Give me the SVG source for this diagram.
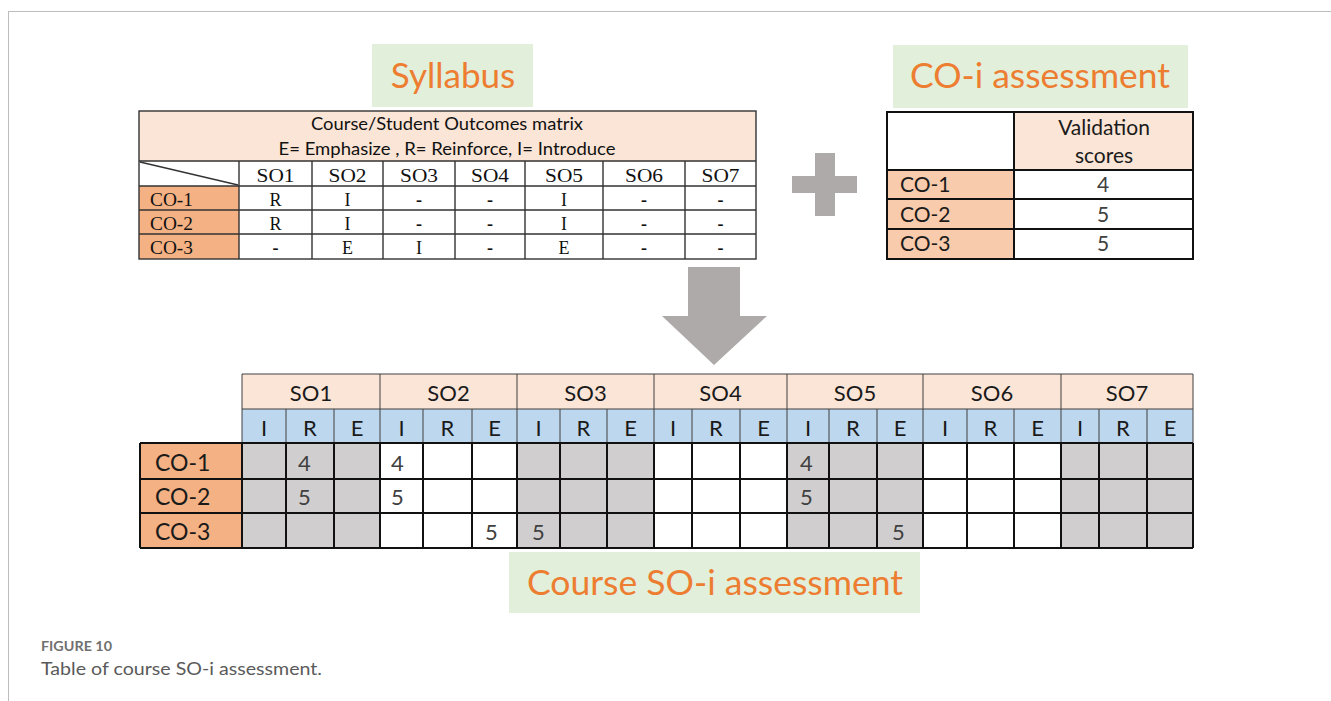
<svg xmlns="http://www.w3.org/2000/svg" width="1331" height="701" viewBox="0 0 1331 701">
  <style>
    .sans { font-family: Lato, "Open Sans", "Liberation Sans", sans-serif; }
    .serif { font-family: "Liberation Serif", "Times New Roman", serif; }
    .title { font-family: Lato, "Open Sans", "Liberation Sans", sans-serif; fill: #ed7d31; font-size: 35px; }
    .tag { fill: #e2efda; }
    .peach { fill: #fbe5d6; }
    .co { fill: #f4b183; }
    .co-light { fill: #f8cbad; }
    .blue { fill: #bdd7ee; }
    .grey { fill: #d0cece; }
    .thin { stroke: #404040; stroke-width: 1; fill: none; }
    .thick { stroke: #111; stroke-width: 2; fill: none; }
    .mid { stroke: #333; stroke-width: 1.4; fill: none; }
    .cell { font-size: 18px; fill: #111; text-anchor: middle; }
    .dash { font-size: 18px; fill: #111; text-anchor: middle; font-weight: bold; }
    .hdr { font-size: 22px; fill: #1a1a1a; text-anchor: middle; }
    .num { font-size: 22px; fill: #404040; }
    .shape { fill: #aeaaaa; }
  </style>

  <!-- page frame -->
  <rect x="8.5" y="11.5" width="1340" height="700" fill="#fff" stroke="#bdbdbd" stroke-width="1"/>

  <!-- Syllabus matrix -->
  <g id="syllabus">
    <rect class="tag" x="372" y="44" width="161" height="63"/>
    <text class="title" x="453" y="88" text-anchor="middle">Syllabus</text>

    <rect x="139" y="111" width="617" height="148" fill="#fff"/>
    <rect class="peach" x="139" y="111" width="617" height="50"/>
    <rect class="co" x="139" y="186" width="100" height="73"/>
    <text class="sans" x="447" y="130" font-size="16.5" fill="#111" text-anchor="middle" textLength="272" lengthAdjust="spacingAndGlyphs">Course/Student Outcomes matrix</text>
    <text class="sans" x="447" y="155" font-size="16.5" fill="#111" text-anchor="middle" textLength="337" lengthAdjust="spacingAndGlyphs">E= Emphasize , R= Reinforce, I= Introduce</text>

    <g class="mid">
      <rect x="139" y="111" width="617" height="148"/>
      <path d="M139 161H756M139 186H756M139 210H756M139 234H756"/>
      <path d="M239 161V259M312 161V259M383 161V259M455 161V259M525 161V259M603 161V259M685 161V259"/>
      <path d="M140 162L238 185"/>
    </g>

    <g class="serif cell">
      <text x="275.5" y="182" textLength="38" lengthAdjust="spacingAndGlyphs">SO1</text>
      <text x="347.5" y="182" textLength="38" lengthAdjust="spacingAndGlyphs">SO2</text>
      <text x="419" y="182" textLength="38" lengthAdjust="spacingAndGlyphs">SO3</text>
      <text x="490" y="182" textLength="38" lengthAdjust="spacingAndGlyphs">SO4</text>
      <text x="564" y="182" textLength="38" lengthAdjust="spacingAndGlyphs">SO5</text>
      <text x="644" y="182" textLength="38" lengthAdjust="spacingAndGlyphs">SO6</text>
      <text x="720.5" y="182" textLength="38" lengthAdjust="spacingAndGlyphs">SO7</text>
    </g>
    <g class="serif" font-size="19" fill="#111">
      <text x="150" y="206" textLength="43" lengthAdjust="spacingAndGlyphs">CO-1</text>
      <text x="150" y="230" textLength="43" lengthAdjust="spacingAndGlyphs">CO-2</text>
      <text x="150" y="254" textLength="43" lengthAdjust="spacingAndGlyphs">CO-3</text>
    </g>
    <g class="serif cell">
      <text x="275.5" y="206">R</text><text x="347.5" y="206">I</text><text x="564" y="206">I</text>
      <text x="275.5" y="230">R</text><text x="347.5" y="230">I</text><text x="564" y="230">I</text>
      <text x="347.5" y="254">E</text><text x="419" y="254">I</text><text x="564" y="254">E</text>
    </g>
    <g class="serif dash">
      <text x="419" y="206">-</text><text x="490" y="206">-</text><text x="644" y="206">-</text><text x="720.5" y="206">-</text>
      <text x="419" y="230">-</text><text x="490" y="230">-</text><text x="644" y="230">-</text><text x="720.5" y="230">-</text>
      <text x="275.5" y="254">-</text><text x="490" y="254">-</text><text x="644" y="254">-</text><text x="720.5" y="254">-</text>
    </g>
  </g>

  <!-- plus sign -->
  <g id="plus">
    <path class="shape" d="M815 153H835V176H857V193H835V216H815V193H792V176H815Z"/>
  </g>

  <!-- CO-i assessment -->
  <g id="co-assessment">
    <rect class="tag" x="893" y="45" width="295" height="63"/>
    <text class="title" x="1040" y="88" text-anchor="middle" textLength="260" lengthAdjust="spacingAndGlyphs">CO-i assessment</text>

    <rect x="887" y="112" width="306" height="147" fill="#fff"/>
    <rect class="peach" x="1014" y="112" width="179" height="58"/>
    <rect class="co-light" x="887" y="170" width="127" height="89"/>
    <g class="thick">
      <rect x="887" y="112" width="306" height="147"/>
      <path d="M887 170H1193M887 199H1193M887 229H1193M1014 112V259"/>
    </g>
    <g class="sans" font-size="21" text-anchor="middle" fill="#1a1a1a">
      <text x="1104" y="135">Validation</text>
      <text x="1104" y="163">scores</text>
    </g>
    <g class="sans" font-size="21" fill="#1a1a1a">
      <text x="900" y="192">CO-1</text>
      <text x="900" y="222">CO-2</text>
      <text x="900" y="251">CO-3</text>
    </g>
    <g class="sans" font-size="21" fill="#404040" text-anchor="middle">
      <text x="1103" y="192">4</text>
      <text x="1103" y="222">5</text>
      <text x="1103" y="251">5</text>
    </g>
  </g>

  <!-- down arrow -->
  <g id="arrow">
    <path class="shape" d="M688 267H740V316H767L714 365L662 316H688Z"/>
  </g>

  <!-- Course SO-i assessment table -->
  <g id="so-assessment">
    <rect class="peach" x="242" y="374" width="951" height="35"/>
    <rect class="blue" x="242" y="409" width="951" height="34"/>
    <rect x="140" y="443" width="1053" height="105" fill="#fff"/>
    <rect class="co" x="140" y="443" width="102" height="105"/>
    <rect class="grey" x="242" y="443" width="138" height="105"/>
    <rect class="grey" x="517" y="443" width="137" height="105"/>
    <rect class="grey" x="787" y="443" width="136" height="105"/>
    <rect class="grey" x="1061" y="443" width="132" height="105"/>

    <g class="thin">
      <path d="M242 374H1193M242 409H1193"/>
      <path d="M242 374V443M380 374V443M517 374V443M654 374V443M787 374V443M923 374V443M1061 374V443M1193 374V443"/>
      <path d="M286 409V443M334 409V443M423 409V443M472 409V443M560 409V443M607 409V443M692 409V443M740 409V443M829 409V443M877 409V443M967 409V443M1014 409V443M1099 409V443M1147 409V443"/>
    </g>
    <g class="thick">
      <path d="M140 443H1193M140 479H1193M140 513H1193M140 548H1193"/>
      <path d="M140 443V548M242 443V548M286 443V548M334 443V548M380 443V548M423 443V548M472 443V548M517 443V548M560 443V548M607 443V548M654 443V548M692 443V548M740 443V548M787 443V548M829 443V548M877 443V548M923 443V548M967 443V548M1014 443V548M1061 443V548M1099 443V548M1147 443V548M1193 443V548"/>
    </g>

    <g class="sans hdr">
      <text x="311" y="401">SO1</text>
      <text x="448.5" y="401">SO2</text>
      <text x="585.5" y="401">SO3</text>
      <text x="720.5" y="401">SO4</text>
      <text x="855" y="401">SO5</text>
      <text x="992" y="401">SO6</text>
      <text x="1127" y="401">SO7</text>
    </g>
    <g class="sans hdr">
      <text x="264" y="436">I</text><text x="310" y="436">R</text><text x="357" y="436">E</text>
      <text x="401.5" y="436">I</text><text x="447.5" y="436">R</text><text x="494.5" y="436">E</text>
      <text x="538.5" y="436">I</text><text x="583.5" y="436">R</text><text x="630.5" y="436">E</text>
      <text x="673" y="436">I</text><text x="716" y="436">R</text><text x="763.5" y="436">E</text>
      <text x="808" y="436">I</text><text x="853" y="436">R</text><text x="900" y="436">E</text>
      <text x="945" y="436">I</text><text x="990.5" y="436">R</text><text x="1037.5" y="436">E</text>
      <text x="1080" y="436">I</text><text x="1123" y="436">R</text><text x="1170" y="436">E</text>
    </g>
    <g class="sans" font-size="23" fill="#1a1a1a">
      <text x="155" y="471">CO-1</text>
      <text x="155" y="505">CO-2</text>
      <text x="155" y="540">CO-3</text>
    </g>
    <g class="sans num">
      <text x="298" y="471">4</text>
      <text x="391" y="471">4</text>
      <text x="800" y="471">4</text>
      <text x="298" y="505">5</text>
      <text x="391" y="505">5</text>
      <text x="800" y="505">5</text>
      <text x="485" y="540">5</text>
      <text x="532" y="540">5</text>
      <text x="892" y="540">5</text>
    </g>

    <rect class="tag" x="509" y="552" width="411" height="61"/>
    <text class="title" x="715" y="595" text-anchor="middle" textLength="376" lengthAdjust="spacingAndGlyphs">Course SO-i assessment</text>
  </g>

  <!-- caption -->
  <g id="caption" font-family="Lato, 'Open Sans', 'Liberation Sans', sans-serif">
    <text x="41" y="651" font-size="13" font-weight="bold" fill="#707070" textLength="71" lengthAdjust="spacingAndGlyphs">FIGURE 10</text>
    <text x="41" y="675" font-size="17" fill="#5a5a5a" textLength="281" lengthAdjust="spacingAndGlyphs">Table of course SO-i assessment.</text>
  </g>
</svg>
